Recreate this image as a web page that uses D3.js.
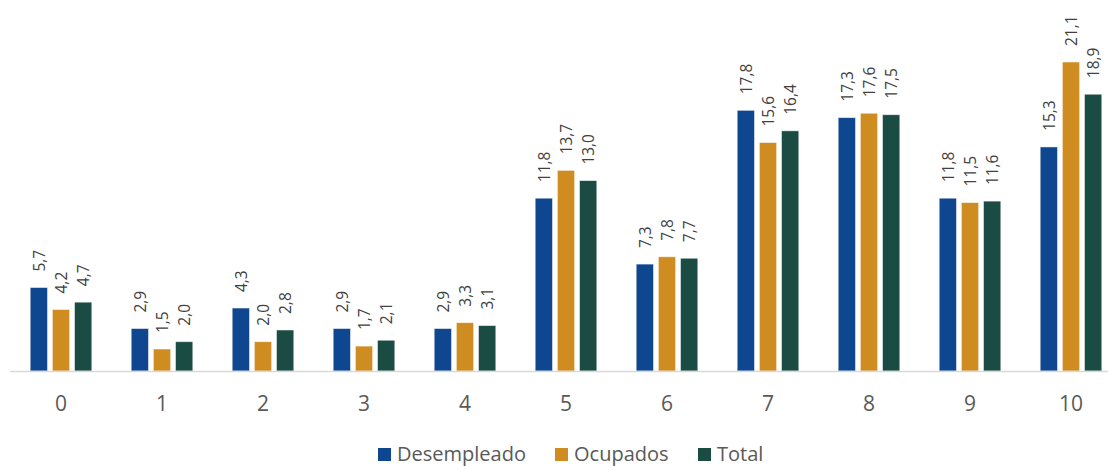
<!DOCTYPE html>
<html>
<head>
<meta charset="utf-8">
<script src="https://cdn.jsdelivr.net/npm/d3@7"></script>
<style>
  html, body { margin: 0; padding: 0; background: #ffffff; }
  svg { display: block; }
  text { font-family: "Open Sans", Lato, sans-serif; }
</style>
</head>
<body>
<svg id="chart" width="1108" height="466"></svg>
<script>
// Categories along the x axis
const categories = ["0", "1", "2", "3", "4", "5", "6", "7", "8", "9", "10"];

// Series values
const desempleado = [5.7, 2.9, 4.3, 2.9, 2.9, 11.8, 7.3, 17.8, 17.3, 11.8, 15.3];
const ocupados    = [4.2, 1.5, 2.0, 1.7, 3.3, 13.7, 7.8, 15.6, 17.6, 11.5, 21.1];
const total       = [4.7, 2.0, 2.8, 2.1, 3.1, 13.0, 7.7, 16.4, 17.5, 11.6, 18.9];

const seriesNames = ["Desempleado", "Ocupados", "Total"];
const seriesColors = ["#0f4690", "#cf8c20", "#1b4c44"];
const seriesValues = [desempleado, ocupados, total];

const svg = d3.select("#chart");
const baseline = 371;

const x = d3.scaleBand()
  .domain(categories)
  .range([10.5, 1121.5])
  .paddingInner(0.39)
  .paddingOuter(0.195);

const sub = d3.scaleBand()
  .domain(seriesNames)
  .range([0, x.bandwidth()])
  .paddingInner(0.22);

const y = d3.scaleLinear()
  .domain([0, 21.1])
  .range([baseline, 62]);

const fmt = v => d3.format(".1f")(v).replace(".", ",");

// Bars and rotated value labels
seriesNames.forEach((name, si) => {
  const g = svg.append("g");
  const rows = categories.map((c, i) => ({ c, v: seriesValues[si][i] }));
  g.selectAll("rect")
    .data(rows)
    .enter().append("rect")
    .attr("x", d => x(d.c) + sub(name))
    .attr("y", d => y(d.v))
    .attr("width", sub.bandwidth())
    .attr("height", d => baseline - y(d.v))
    .attr("fill", seriesColors[si])
    .attr("stroke", "rgba(255,255,255,0.6)")
    .attr("stroke-width", 0.8);
  g.selectAll("text")
    .data(rows)
    .enter().append("text")
    .attr("transform", d => {
      const cx = x(d.c) + sub(name) + sub.bandwidth() / 2;
      return `translate(${cx + 6},${y(d.v) - 16}) rotate(-90)`;
    })
    .attr("text-anchor", "start")
    .attr("font-size", 15.5)
    .attr("fill", "#404040")
    .text(d => fmt(d.v));
});

// Category axis
const axis = svg.append("g").attr("transform", `translate(0,${baseline})`)
  .call(d3.axisBottom(x).tickSize(0).tickPadding(25));
axis.select(".domain").remove();
axis.selectAll("text")
  .attr("font-size", 21)
  .attr("fill", "#595959")
  .attr("font-family", "'Open Sans', Lato, sans-serif");
svg.append("line")
  .attr("x1", 10).attr("x2", 1108)
  .attr("y1", baseline + 0.5).attr("y2", baseline + 0.5)
  .attr("stroke", "#d9d9d9").attr("stroke-width", 1.5);

// Legend
const legendX = [378, 555, 698];
const legend = svg.append("g");
seriesNames.forEach((name, i) => {
  legend.append("rect")
    .attr("x", legendX[i]).attr("y", 448)
    .attr("width", 13).attr("height", 13)
    .attr("fill", seriesColors[i]);
  legend.append("text")
    .attr("x", legendX[i] + 19).attr("y", 460.5)
    .attr("font-size", 20)
    .attr("fill", "#595959")
    .text(name);
});
</script>
</body>
</html>
